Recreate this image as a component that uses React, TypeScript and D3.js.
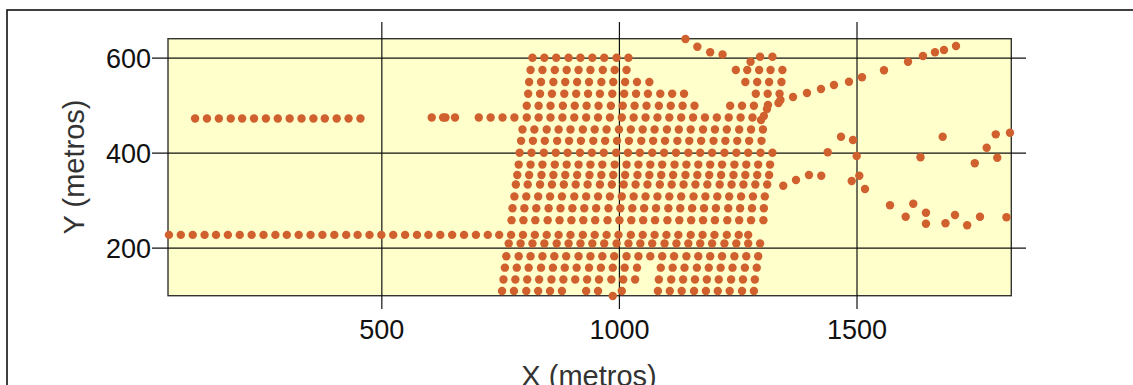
import React from "react";
import * as d3 from "d3";

// ---- axis ticks ----
const xTicks = [500, 1000, 1500];
const yTicks = [200, 400, 600];

// ---- sampling rows (y in metros, x positions in metros) ----
const row601 = [817, 842, 867, 893, 918, 943, 968, 994, 1019];
const row575 = [813, 838, 864, 889, 914, 939, 965, 990, 1015, 1245, 1269, 1294, 1318, 1343];
const row550 = [810, 835, 861, 886, 911, 936, 962, 987, 1012, 1037, 1063, 1265, 1290, 1315, 1341];
const row525 = [808, 833, 858, 884, 909, 934, 959, 985, 1010, 1035, 1060, 1086, 1111, 1136, 1287, 1312, 1337];
const row500 = [805, 830, 855, 881, 906, 931, 956, 982, 1007, 1032, 1057, 1083, 1108, 1133, 1158, 1233, 1258, 1283];
const row475 = [605, 629, 634, 654, 704, 729, 754, 779, 805, 830, 855, 880, 905, 930, 955, 980, 1005, 1030, 1055, 1080, 1105, 1130, 1155, 1180, 1205, 1230, 1255, 1280];
const row473 = [107, 132, 157, 182, 206, 231, 256, 281, 306, 331, 356, 380, 405, 430, 455];
const row450 = [796, 821, 847, 872, 897, 923, 948, 973, 999, 1024, 1049, 1074, 1100, 1125, 1150, 1176, 1201, 1226, 1252, 1277, 1302];
const row426 = [793, 818, 843, 869, 894, 919, 945, 970, 995, 1020, 1046, 1071, 1096, 1122, 1147, 1172, 1198, 1223, 1248, 1273, 1299];
const row401 = [790, 815, 841, 866, 891, 917, 942, 967, 993, 1018, 1043, 1069, 1094, 1119, 1145, 1170, 1195, 1221, 1246, 1271, 1297, 1322];
const row376 = [788, 813, 838, 864, 889, 914, 939, 964, 990, 1015, 1040, 1065, 1090, 1116, 1141, 1166, 1191, 1216, 1242, 1267, 1292, 1317];
const row354 = [785, 810, 836, 861, 886, 911, 937, 962, 987, 1012, 1038, 1063, 1088, 1113, 1139, 1164, 1189, 1214, 1240, 1265, 1290, 1315];
const row334 = [782, 807, 833, 858, 883, 908, 933, 959, 984, 1009, 1034, 1059, 1085, 1110, 1135, 1160, 1185, 1211, 1236, 1261, 1286, 1311];
const row309 = [779, 804, 829, 854, 879, 905, 930, 955, 980, 1005, 1030, 1055, 1080, 1105, 1130, 1156, 1181, 1206, 1231, 1256, 1281, 1306];
const row284 = [775, 800, 825, 851, 876, 901, 926, 951, 977, 1002, 1027, 1052, 1077, 1103, 1128, 1153, 1178, 1203, 1229, 1254, 1279, 1304];
const row259 = [773, 798, 823, 849, 874, 899, 924, 949, 975, 1000, 1025, 1050, 1075, 1101, 1126, 1151, 1176, 1201, 1227, 1252, 1277, 1303];
const row228 = [52, 77, 102, 127, 151, 176, 201, 226, 251, 276, 300, 325, 350, 375, 400, 425, 449, 474, 499, 524, 549, 574, 598, 623, 648, 673, 698, 723, 747, 772, 797, 822, 847, 872, 897, 923, 948, 973, 998, 1024, 1049, 1074, 1099, 1124, 1150, 1175, 1200, 1226, 1251, 1271];
const row210 = [767, 792, 817, 842, 868, 893, 918, 943, 968, 994, 1019, 1044, 1069, 1095, 1120, 1145, 1170, 1195, 1221, 1246, 1271, 1296];
const row183 = [762, 788, 813, 838, 863, 888, 914, 939, 964, 989, 1015, 1040, 1065, 1090, 1115, 1141, 1166, 1191, 1216, 1242, 1267, 1292];
const row159 = [759, 784, 809, 835, 860, 885, 910, 936, 961, 986, 1011, 1037, 1087, 1112, 1137, 1163, 1188, 1213, 1238, 1264, 1289];
const row134 = [756, 781, 806, 831, 857, 882, 907, 932, 957, 983, 1008, 1033, 1083, 1109, 1134, 1159, 1184, 1209, 1235, 1260, 1285];
const row110 = [753, 778, 804, 829, 854, 879, 930, 955, 1005, 1081, 1106, 1131, 1157, 1182, 1207, 1232, 1258, 1283];

const rows: [number, number[]][] = [
  [601, row601], [575, row575], [550, row550], [525, row525], [500, row500],
  [475, row475], [473, row473], [450, row450], [426, row426], [401, row401],
  [376, row376], [354, row354], [334, row334], [309, row309], [284, row284],
  [259, row259], [228, row228], [210, row210], [183, row183], [159, row159],
  [134, row134], [110, row110],
];

// ---- isolated points ----
const scatterX = [
  1296, 1322, 1139, 1164, 1191, 1217, 1276,
  1298, 1304, 1310.5, 1312.6, 1334.7, 1338.9, 1365.3, 1394.7, 1424.2, 1451.5, 1483.1, 1510.5, 1556.8, 1607.3, 1638.8, 1664.1, 1683, 1708.3,
  1344.8, 1371.6, 1398.9, 1424.8, 1488.8, 1504.8, 1516.8, 1569.4, 1602.4, 1618.4, 1645.1, 1645.1, 1686.2, 1706.2, 1731.8, 1758.8, 1814.5,
  1438.3, 1466.3, 1491.5, 1499.3, 1633.6, 1680.3, 1747.8, 1772.9, 1792, 1795.2, 1821.9,
  986,
];
const scatterY = [
  603, 603, 640.4, 624.1, 612.4, 607.7, 592.6,
  469.9, 478.3, 493, 501.4, 505.6, 512, 518.3, 526.7, 535.1, 543.5, 550.5, 559.7, 574.5, 592.6, 604.6, 612.4, 617.2, 625.6,
  331.6, 343.5, 354.1, 352.6, 341.4, 352.6, 324.6, 290.3, 266.3, 293.7, 274.7, 251.6, 252.6, 269.9, 248.2, 266.3, 265,
  401.9, 434.7, 427.8, 394.1, 391.3, 434.7, 378.7, 411.5, 439.7, 390.3, 443.1,
  99.4,
];

const FONT = "'Liberation Sans', Arial, Helvetica, sans-serif";
const DOT = "#D0612E";

export default function App() {
  const W = 1133;
  const H = 385;
  const x = d3.scaleLinear().domain([50, 1824.7]).range([168, 1011.3]);
  const y = d3.scaleLinear().domain([100, 641]).range([295.7, 38.7]);
  const [x0, x1] = x.range();
  const [y0, y1] = y.range();

  const pts: { x: number; y: number }[] = [];
  rows.forEach(([yy, xs]) => xs.forEach((xx) => pts.push({ x: xx, y: yy })));
  scatterX.forEach((xx, i) => pts.push({ x: xx, y: scatterY[i] }));

  return (
    <svg
      width={W}
      height={H}
      style={{ position: "absolute", left: 0, top: 0, display: "block", background: "#fff" }}
      fontFamily={FONT}
    >
      <rect x={7} y={10} width={1200} height={500} fill="#fff" stroke="#111" strokeWidth={1.6} />
      <rect x={x0} y={y1} width={x1 - x0} height={y0 - y1} fill="#FFFFCC" stroke="#333" strokeWidth={1.4} />
      {yTicks.map((t) => (
        <g key={"y" + t}>
          <line x1={152} x2={1026} y1={y(t)} y2={y(t)} stroke="#111" strokeWidth={1.2} />
          <text x={151} y={y(t)} dy="0.36em" textAnchor="end" fontSize={27} fill="#111">
            {t}
          </text>
        </g>
      ))}
      {xTicks.map((t) => (
        <g key={"x" + t}>
          <line x1={x(t)} x2={x(t)} y1={22} y2={309} stroke="#111" strokeWidth={1.2} />
          <text x={x(t)} y={339} textAnchor="middle" fontSize={27} fill="#111">
            {t}
          </text>
        </g>
      ))}
      <g>
        {pts.map((p, i) => (
          <circle key={i} cx={x(p.x)} cy={y(p.y)} r={4.2} fill={DOT} />
        ))}
      </g>
      <text x={589} y={386} textAnchor="middle" fontSize={29} fill="#333">
        X (metros)
      </text>
      <text transform="translate(84,167) rotate(-90)" textAnchor="middle" fontSize={29} fill="#333">
        Y (metros)
      </text>
    </svg>
  );
}
